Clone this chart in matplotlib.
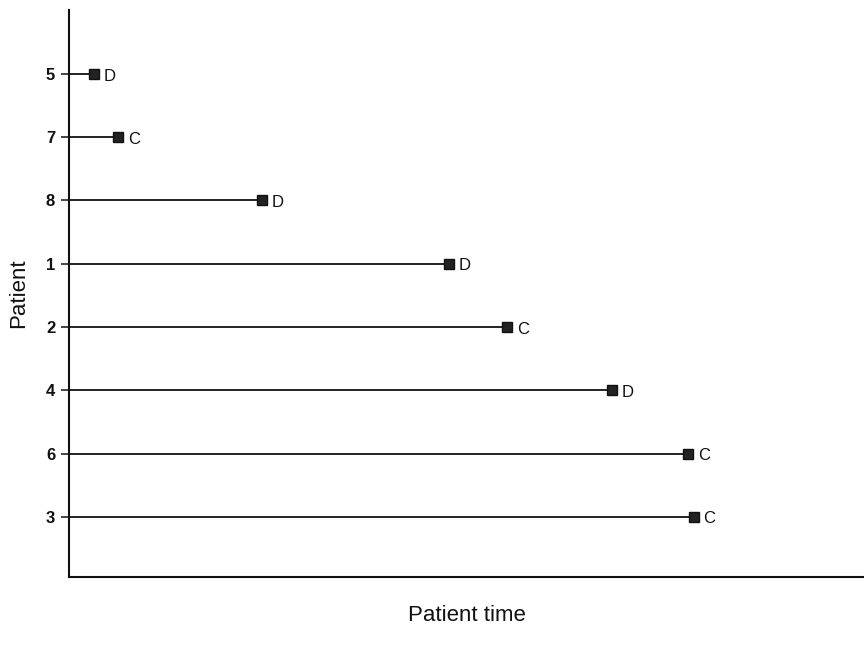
import matplotlib
matplotlib.use("Agg")
import matplotlib.pyplot as plt

# Patients in plotted order (top to bottom), follow-up time, and outcome
patients = ["5", "7", "8", "1", "2", "4", "6", "3"]
times    = [3.1, 6.2, 24.3, 47.8, 55.1, 68.3, 77.9, 78.6]
status   = ["D", "C", "D", "D", "C", "D", "C", "C"]

plt.rcParams["font.family"] = ["Liberation Sans", "DejaVu Sans"]

fig = plt.figure(figsize=(8.64, 6.5), dpi=100)
ax = fig.add_axes([0.0799, 0.1123, 0.9201, 0.8723])

rows = list(range(1, len(patients) + 1))
for row, t, s in zip(rows, times, status):
    ax.plot([0, t], [row, row], color="#111111", lw=1.3, solid_capstyle="butt")
    ax.plot(t, row, marker="s", ms=6.5, color="#222222", mec="#111111")
    ax.annotate(s, (t, row), xytext=(7, -1.5), textcoords="offset points",
                ha="left", va="center", fontsize=12, color="#111111")

ax.set_xlim(0, 100)
ax.set_ylim(8.95, -0.01)
ax.set_yticks(rows)
ax.set_yticklabels(patients, fontweight="bold")
ax.set_xticks([])
ax.tick_params(axis="y", direction="out", length=6, width=1.1, pad=4,
               labelsize=12, colors="#111111")

for side in ("top", "right"):
    ax.spines[side].set_visible(False)
for side in ("left", "bottom"):
    ax.spines[side].set_linewidth(1.5)
    ax.spines[side].set_color("#111111")

ax.set_ylabel("Patient", fontsize=16, labelpad=12, color="#111111")
ax.set_xlabel("Patient time", fontsize=16, labelpad=20, color="#111111")

fig.savefig("out.png", dpi=100)
